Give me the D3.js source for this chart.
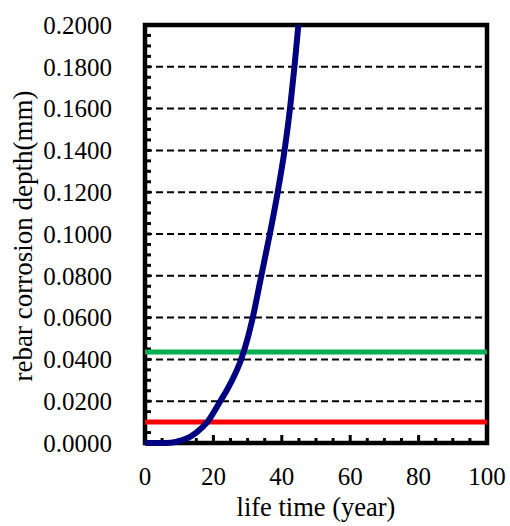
<!DOCTYPE html>
<html><head><meta charset="utf-8">
<script src="https://cdn.jsdelivr.net/npm/d3@7"></script>
<style>body{margin:0;background:#fff}svg{display:block}</style>
</head><body><svg id="c" width="510" height="526"></svg>
<script>
const years = [0, 6, 9, 12, 15, 18.2, 22.0, 24.0, 26.0, 28.0, 30.0, 31.5, 34.0, 36.5, 38.8, 40.8, 42.4, 43.7, 44.85];
const depth = [0, 0, 0.0005, 0.0020, 0.0050, 0.0100, 0.0200, 0.0255, 0.0318, 0.0395, 0.0500, 0.0600, 0.0800, 0.1000, 0.1200, 0.1400, 0.1600, 0.1800, 0.2000];
const redLevel = 0.0100;
const greenLevel = 0.0435;
const xTicks = [0, 20, 40, 60, 80, 100];
const yTicks = [0, 0.02, 0.04, 0.06, 0.08, 0.10, 0.12, 0.14, 0.16, 0.18, 0.20];
const xLabel = "life time (year)";
const yLabel = "rebar corrosion depth(mm)";

const FONT = "'Liberation Serif', 'Times New Roman', serif";
const svg = d3.select("#c");
const L = 145, T = 25, R = 487, B = 443;
const x = d3.scaleLinear().domain([0, 100]).range([L, R]);
const y = d3.scaleLinear().domain([0, 0.2]).range([B, T]);

svg.append("g").selectAll("line").data(yTicks.filter(v => v > 0 && v < 0.2)).join("line")
  .attr("x1", L).attr("x2", R).attr("y1", d => y(d)).attr("y2", d => y(d))
  .attr("stroke", "#000").attr("stroke-width", 2).attr("stroke-dasharray", "7,4");
svg.append("g").selectAll("line").data(d3.range(0, 0.2001, 0.005)).join("line")
  .attr("x1", L).attr("x2", L + 6).attr("y1", d => y(d)).attr("y2", d => y(d))
  .attr("stroke", "#000").attr("stroke-width", 3);
svg.append("g").selectAll("line").data(d3.range(0, 100.01, 5)).join("line")
  .attr("x1", d => x(d)).attr("x2", d => x(d)).attr("y1", B).attr("y2", d => B - (Math.round(d) % 20 === 0 ? 8 : 5))
  .attr("stroke", "#000").attr("stroke-width", 3);
svg.append("rect").attr("x", L).attr("y", T).attr("width", R - L).attr("height", B - T)
  .attr("fill", "none").attr("stroke", "#000").attr("stroke-width", 4.5);
svg.append("line").attr("x1", L).attr("x2", R).attr("y1", y(redLevel)).attr("y2", y(redLevel))
  .attr("stroke", "#FF0000").attr("stroke-width", 5);
svg.append("line").attr("x1", L).attr("x2", R).attr("y1", y(greenLevel)).attr("y2", y(greenLevel))
  .attr("stroke", "#00B050").attr("stroke-width", 5);
svg.append("clipPath").attr("id", "cp").append("rect").attr("x", L - 5).attr("y", T).attr("width", R - L + 10).attr("height", B - T + 10);
const pts = years.map((t, i) => [t, depth[i]]);
svg.append("path").datum(pts).attr("clip-path", "url(#cp)")
  .attr("d", d3.line().x(d => x(d[0])).y(d => y(d[1])).curve(d3.curveMonotoneX))
  .attr("fill", "none").attr("stroke", "#000080").attr("stroke-width", 6).attr("stroke-linejoin", "round");

svg.append("g").selectAll("text").data(yTicks).join("text")
  .attr("x", 112).attr("y", d => y(d)).attr("dy", "0.35em").attr("text-anchor", "end")
  .style("font-family", FONT).style("font-size", "25px").text(d => d3.format(".4f")(d));
svg.append("g").selectAll("text").data(xTicks).join("text")
  .attr("x", d => x(d)).attr("y", 485).attr("text-anchor", "middle")
  .style("font-family", FONT).style("font-size", "25px").text(d => d);
svg.append("text").attr("x", (L + R) / 2).attr("y", 516).attr("text-anchor", "middle")
  .style("font-family", FONT).style("font-size", "26.5px").text(xLabel);
svg.append("text").attr("transform", `translate(32,236) rotate(-90)`).attr("text-anchor", "middle")
  .style("font-family", FONT).style("font-size", "27px").text(yLabel);
</script></body></html>
